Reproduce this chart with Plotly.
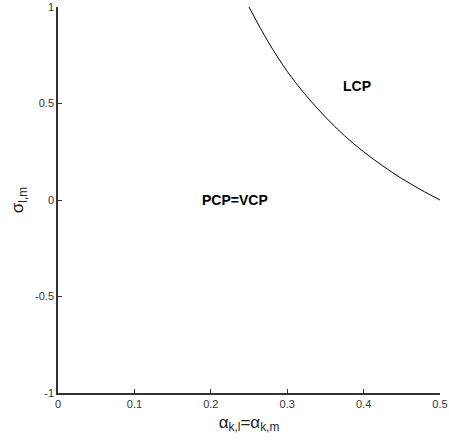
import plotly.graph_objects as go

# curve (boundary between regions)
alpha = [0.25, 0.275, 0.3, 0.325, 0.35, 0.375, 0.4, 0.425, 0.45, 0.475, 0.5]
sigma = [1.0, 0.82, 0.667, 0.54, 0.43, 0.333, 0.25, 0.177, 0.111, 0.053, 0.0]

x_ticks = [0, 0.1, 0.2, 0.3, 0.4, 0.5]
x_tick_text = ["0", "0.1", "0.2", "0.3", "0.4", "0.5"]
y_ticks = [-1, -0.5, 0, 0.5, 1]
y_tick_text = ["-1", "-0.5", "0", "0.5", "1"]

region_labels = ["LCP", "PCP=VCP"]
region_x = [0.391, 0.232]
region_y = [0.59, 0.0]

FONT = "Liberation Sans, Arial, sans-serif"

fig = go.Figure()
fig.add_trace(go.Scatter(x=alpha, y=sigma, mode="lines", line=dict(color="black", width=1, shape="spline"),
                         showlegend=False, hoverinfo="skip"))

for t, xx, yy in zip(region_labels, region_x, region_y):
    fig.add_annotation(x=xx, y=yy, text="<b>%s</b>" % t, showarrow=False,
                       font=dict(family=FONT, size=14, color="black"))

fig.update_layout(
    width=449, height=446,
    margin=dict(l=58, r=9, t=7, b=53),
    paper_bgcolor="white", plot_bgcolor="white",
    font=dict(family=FONT, color="#222"),
)
fig.update_xaxes(range=[0, 0.5], tickvals=x_ticks, ticktext=x_tick_text, automargin=False,
                 showgrid=False, zeroline=False, showline=True, linecolor="#333", linewidth=1.5,
                 ticks="inside", ticklen=4, tickcolor="#333", tickfont=dict(size=11, color="#333"),
                 title=dict(text="α<sub>k,l</sub>=α<sub>k,m</sub>", font=dict(size=17, color="#222"), standoff=7))
fig.update_yaxes(range=[-1, 1], tickvals=y_ticks, ticktext=y_tick_text, automargin=False,
                 showgrid=False, zeroline=False, showline=True, linecolor="#333", linewidth=1.5,
                 ticks="inside", ticklen=4, tickcolor="#333", tickfont=dict(size=11, color="#333"),
                 title=dict(text="σ<sub>l,m</sub>", font=dict(size=17, color="#222"), standoff=7))

fig.write_html(
    "out.html",
    config={"displayModeBar": False},
    post_script=("document.body.style.margin='0';"
                 "document.body.style.overflow='hidden';"
                 "document.documentElement.style.overflow='hidden';"),
)
